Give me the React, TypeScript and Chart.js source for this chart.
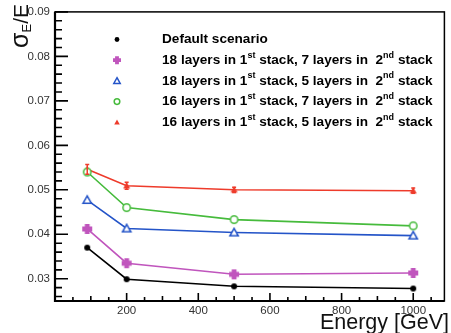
import React, { useEffect, useRef } from "react";
import { Chart, registerables } from "chart.js";

Chart.register(...registerables);

// ---- data ----
const energies = [90, 200, 500, 1000];
const defaultScenario = [0.037, 0.0299, 0.0283, 0.0278];
const l18s7 = [0.0412, 0.0335, 0.031, 0.0313];
const l18s5 = [0.0477, 0.0413, 0.0404, 0.0397];
const l16s7 = [0.054, 0.046, 0.0433, 0.0419];
const l16s5 = [0.0546, 0.0509, 0.05, 0.0498];
const l16s5Err = [0.0011, 0.0008, 0.0006, 0.0006];

const xTickValues = [200, 400, 600, 800, 1000];
const yTickValues = [0.03, 0.04, 0.05, 0.06, 0.07, 0.08, 0.09];

// legend labels: alternating normal / superscript segments
const legendLabels: string[][] = [
  ["Default scenario"],
  ["18 layers in 1", "st", " stack, 7 layers in  2", "nd", " stack"],
  ["18 layers in 1", "st", " stack, 5 layers in  2", "nd", " stack"],
  ["16 layers in 1", "st", " stack, 7 layers in  2", "nd", " stack"],
  ["16 layers in 1", "st", " stack, 5 layers in  2", "nd", " stack"],
];
const xTitle = "Energy [GeV]";

const seriesColors = ["#000000", "#c055bd", "#2454c8", "#46bb3c", "#ee3b2b"];
const markerKinds = ["dot", "cross", "openTri", "openCircle", "tri"];
const markerSizes = [6, 10, 10, 9, 7];

const FONT = "'Liberation Sans', Arial, Helvetica, sans-serif";

function drawMarker(ctx: CanvasRenderingContext2D, kind: string, color: string, x: number, y: number, s: number) {
  ctx.save();
  ctx.fillStyle = color;
  ctx.strokeStyle = color;
  ctx.lineWidth = 1.5;
  const h = s / 2;
  ctx.beginPath();
  if (kind === "dot") {
    ctx.arc(x, y, h, 0, Math.PI * 2);
    ctx.fill();
  } else if (kind === "cross") {
    const a = s * 0.24;
    ctx.moveTo(x - a, y - h);
    ctx.lineTo(x + a, y - h);
    ctx.lineTo(x + a, y - a);
    ctx.lineTo(x + h, y - a);
    ctx.lineTo(x + h, y + a);
    ctx.lineTo(x + a, y + a);
    ctx.lineTo(x + a, y + h);
    ctx.lineTo(x - a, y + h);
    ctx.lineTo(x - a, y + a);
    ctx.lineTo(x - h, y + a);
    ctx.lineTo(x - h, y - a);
    ctx.lineTo(x - a, y - a);
    ctx.closePath();
    ctx.fill();
  } else if (kind === "openTri" || kind === "tri") {
    const hh = h - (kind === "openTri" ? 0.8 : 0);
    ctx.moveTo(x, y - hh);
    ctx.lineTo(x + hh, y + hh * 0.8);
    ctx.lineTo(x - hh, y + hh * 0.8);
    ctx.closePath();
    if (kind === "tri") ctx.fill();
    else {
      ctx.fillStyle = "#ffffff";
      ctx.fill();
      ctx.stroke();
    }
  } else if (kind === "openCircle") {
    ctx.arc(x, y, h - 0.8, 0, Math.PI * 2);
    ctx.fillStyle = "#ffffff";
    ctx.fill();
    ctx.stroke();
  }
  ctx.restore();
}

function makeMarker(kind: string, color: string, s: number): HTMLCanvasElement {
  const c = document.createElement("canvas");
  const size = Math.ceil(s + 2);
  c.width = size;
  c.height = size;
  const ctx = c.getContext("2d")!;
  drawMarker(ctx, kind, color, size / 2, size / 2, s);
  return c;
}

const decorPlugin = {
  id: "decor",
  afterDatasetsDraw(chart: any) {
    const ctx: CanvasRenderingContext2D = chart.ctx;
    const ys = chart.scales.y;
    const xs = chart.scales.x;
    // error bars on red series
    ctx.save();
    ctx.strokeStyle = seriesColors[4];
    ctx.lineWidth = 1.5;
    energies.forEach((e, i) => {
      const px = xs.getPixelForValue(e);
      const top = ys.getPixelForValue(l16s5[i] + l16s5Err[i]);
      const bot = ys.getPixelForValue(l16s5[i] - l16s5Err[i]);
      ctx.beginPath();
      ctx.moveTo(px, top);
      ctx.lineTo(px, bot);
      ctx.moveTo(px - 2, top);
      ctx.lineTo(px + 2, top);
      ctx.moveTo(px - 2, bot);
      ctx.lineTo(px + 2, bot);
      ctx.stroke();
    });
    ctx.restore();
  },
  afterDraw(chart: any) {
    const ctx: CanvasRenderingContext2D = chart.ctx;
    const a = chart.chartArea;
    const ys = chart.scales.y;
    const xs = chart.scales.x;
    ctx.save();
    // frame
    ctx.strokeStyle = "#000";
    ctx.lineWidth = 1.5;
    ctx.strokeRect(a.left, a.top, a.right - a.left, a.bottom - a.top);
    ctx.lineWidth = 2.2;
    ctx.beginPath();
    ctx.moveTo(a.left, a.top);
    ctx.lineTo(a.left, a.bottom);
    ctx.lineTo(a.right, a.bottom);
    ctx.stroke();
    // y ticks (inside)
    ctx.lineWidth = 1.6;
    ctx.beginPath();
    for (let k = 0; k <= 40; k++) {
      const v = 0.026 + k * 0.002;
      if (v > 0.0901) break;
      const py = ys.getPixelForValue(v);
      const major = Math.abs(v * 100 - Math.round(v * 100)) < 1e-6;
      ctx.moveTo(a.left, py);
      ctx.lineTo(a.left + (major ? 13 : 7), py);
    }
    // x ticks (inside)
    for (let v = 50; v < 1087; v += 50) {
      const px = xs.getPixelForValue(v);
      const major = v % 200 === 0;
      const mid = v % 100 === 0;
      ctx.moveTo(px, a.bottom);
      ctx.lineTo(px, a.bottom - (major ? 8 : mid ? 5 : 4));
    }
    ctx.stroke();

    // legend
    const rowY0 = 39.5;
    const rowDy = 20.7;
    legendLabels.forEach((segs, i) => {
      const y = rowY0 + rowDy * i;
      drawMarker(ctx, markerKinds[i], seriesColors[i], 117, y, markerSizes[i] * 0.8);
      let x = 162;
      ctx.fillStyle = "#000";
      ctx.textBaseline = "middle";
      ctx.textAlign = "left";
      segs.forEach((s, j) => {
        const sup = j % 2 === 1;
        ctx.font = sup ? `bold 9px ${FONT}` : `bold 13.6px ${FONT}`;
        ctx.fillText(s, x, sup ? y - 5 : y);
        x += ctx.measureText(s).width;
      });
    });

    // x title
    ctx.fillStyle = "#111";
    ctx.font = `21.5px ${FONT}`;
    ctx.textAlign = "right";
    ctx.textBaseline = "alphabetic";
    ctx.fillText(xTitle, 449, 329);

    // y title: sigma_E / E rotated (reads bottom to top)
    const big = `21px ${FONT}`;
    const sig = `25px ${FONT}`;
    const small = `13px ${FONT}`;
    ctx.font = sig;
    const wS = ctx.measureText("\u03c3").width;
    ctx.font = small;
    const wE = ctx.measureText("E").width;
    ctx.font = big;
    const wSl = ctx.measureText("/E").width;
    const W = wS + wE + wSl;
    ctx.translate(28, 4 + W);
    ctx.rotate(-Math.PI / 2);
    ctx.textAlign = "left";
    ctx.font = sig;
    ctx.fillText("\u03c3", 0, 0);
    ctx.font = small;
    ctx.fillText("E", wS, 3);
    ctx.font = big;
    ctx.fillText("/E", wS + wE, 0);
    ctx.restore();
  },
};

export default function App() {
  const ref = useRef<HTMLCanvasElement | null>(null);
  useEffect(() => {
    if (!ref.current) return;
    const series = [defaultScenario, l18s7, l18s5, l16s7, l16s5];
    const datasets = series.map((vals, i) => ({
      label: legendLabels[i].join(""),
      data: energies.map((e, k) => ({ x: e, y: vals[k] })),
      borderColor: seriesColors[i],
      backgroundColor: seriesColors[i],
      borderWidth: 1.6,
      pointStyle: makeMarker(markerKinds[i], seriesColors[i], markerSizes[i]) as any,
      pointRadius: markerSizes[i] / 2,
      tension: 0,
    }));
    const chart = new Chart(ref.current, {
      type: "line",
      data: { datasets },
      plugins: [decorPlugin],
      options: {
        animation: false,
        responsive: false,
        events: [],
        layout: { padding: { top: 11, right: 2, left: 0, bottom: 0 } },
        plugins: { legend: { display: false }, tooltip: { enabled: false } },
        scales: {
          x: {
            type: "linear",
            min: 0,
            max: 1087,
            afterBuildTicks: (s: any) => {
              s.ticks = xTickValues.map((v) => ({ value: v }));
            },
            afterFit: (s: any) => {
              s.height = 32;
            },
            grid: { display: false, drawTicks: false },
            border: { display: false },
            ticks: {
              padding: 3,
              color: "#333",
              font: { family: FONT, size: 11.5 },
              callback: (v: any) => String(v),
              maxRotation: 0,
            },
          },
          y: {
            type: "linear",
            min: 0.025,
            max: 0.09,
            afterBuildTicks: (s: any) => {
              s.ticks = yTickValues.map((v) => ({ value: v }));
            },
            afterFit: (s: any) => {
              s.width = 55;
            },
            grid: { display: false, drawTicks: false },
            border: { display: false },
            ticks: {
              padding: 5,
              color: "#333",
              font: { family: FONT, size: 11.5 },
              callback: (v: any) => Number(v).toFixed(2),
            },
          },
        },
      },
    });
    return () => chart.destroy();
  }, []);
  return (
    <div style={{ position: "fixed", left: 0, top: 0, width: 451, height: 333, background: "#fff" }}>
      <canvas ref={ref} width={451} height={333} style={{ width: 451, height: 333, display: "block" }} />
    </div>
  );
}
